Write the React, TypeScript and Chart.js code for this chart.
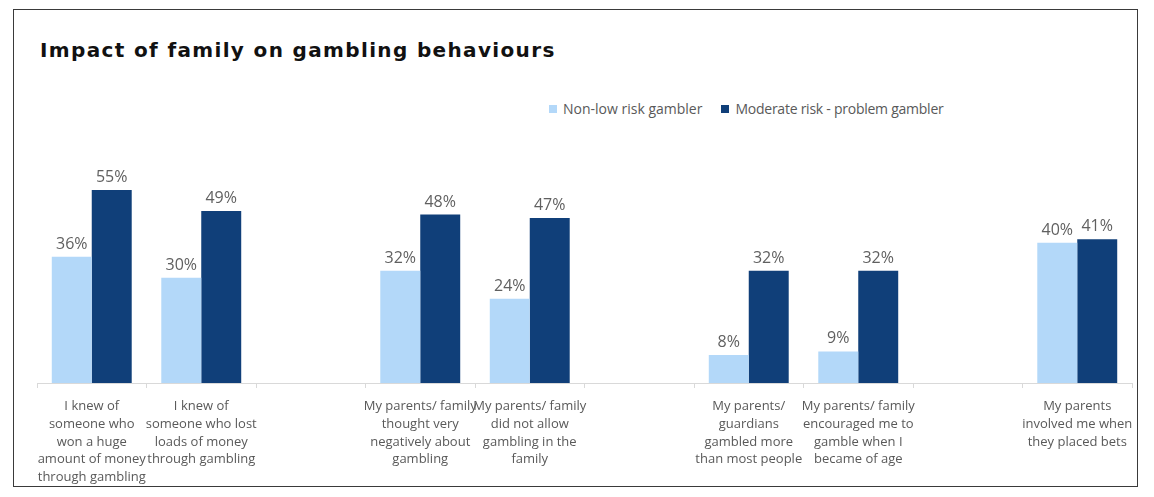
import React, { useEffect, useRef } from "react";
import { Chart, registerables } from "chart.js";

Chart.register(...registerables);

const title = "Impact of family on gambling behaviours";

const categories: (string | string[])[] = [
  ["I knew of", "someone who", "won a huge", "amount of money", "through gambling"],
  ["I knew of", "someone who lost", "loads of money", "through gambling"],
  "",
  ["My parents/ family", "thought very", "negatively about", "gambling"],
  ["My parents/ family", "did not allow", "gambling in the", "family"],
  "",
  ["My parents/", "guardians", "gambled more", "than most people"],
  ["My parents/ family", "encouraged me to", "gamble when I", "became of age"],
  "",
  ["My parents", "involved me when", "they placed bets"],
];

const seriesNames = ["Non-low risk gambler", "Moderate risk - problem gambler"];
const nonLowRisk = [36, 30, null, 32, 24, null, 8, 9, null, 40];
const moderateRisk = [55, 49, null, 48, 47, null, 32, 32, null, 41];
const seriesColors = ["#B3D8F9", "#103F79"];

const TEXT = "#595959";

const valueLabels = {
  id: "valueLabels",
  afterDatasetsDraw(chart: any) {
    const ctx = chart.ctx;
    ctx.save();
    ctx.font = "16px 'Open Sans'";
    ctx.fillStyle = "#606060";
    ctx.textAlign = "center";
    ctx.textBaseline = "alphabetic";
    chart.data.datasets.forEach((ds: any, i: number) => {
      const meta = chart.getDatasetMeta(i);
      meta.data.forEach((bar: any, j: number) => {
        const v = ds.data[j];
        if (v === null || v === undefined) return;
        ctx.fillText(v + "%", bar.x, bar.y - 8);
      });
    });
    ctx.restore();
  },
};

export default function App() {
  const ref = useRef<HTMLCanvasElement>(null);
  useEffect(() => {
    if (!ref.current) return;
    const chart = new Chart(ref.current, {
      type: "bar",
      data: {
        labels: categories,
        datasets: [
          {
            label: seriesNames[0],
            data: nonLowRisk,
            backgroundColor: seriesColors[0],
            categoryPercentage: 0.73,
            barPercentage: 1,
          },
          {
            label: seriesNames[1],
            data: moderateRisk,
            backgroundColor: seriesColors[1],
            categoryPercentage: 0.73,
            barPercentage: 1,
          },
        ],
      },
      options: {
        animation: false,
        responsive: true,
        maintainAspectRatio: false,
        layout: { padding: { left: 23, right: 5, top: 12.5, bottom: 0 } },
        plugins: {
          legend: { display: false },
          tooltip: { enabled: false },
        },
        scales: {
          x: {
            grid: {
              offset: true,
              drawOnChartArea: false,
              drawTicks: true,
              tickLength: 5,
              color: "#D9D9D9",
            },
            border: { color: "#D9D9D9" },
            ticks: {
              color: TEXT,
              font: { family: "'Open Sans'", size: 13, lineHeight: 1.38 },
              maxRotation: 0,
              autoSkip: false,
              padding: 9,
            },
            afterFit(scale: any) {
              scale.height = 103;
              scale.paddingLeft = 0;
              scale.paddingRight = 0;
            },
          },
          y: {
            display: false,
            min: 0,
            max: 60,
          },
        },
      },
      plugins: [valueLabels],
    });
    return () => chart.destroy();
  }, []);

  return (
    <div
      style={{
        position: "absolute",
        left: 13,
        top: 9,
        width: 1125,
        height: 478,
        boxSizing: "border-box",
        border: "1px solid #3A3A3A",
        background: "#fff",
      }}
    >
      <div
        style={{
          position: "absolute",
          left: 26,
          top: 28,
          lineHeight: "24px",
          fontFamily: "'DejaVu Sans', sans-serif",
          fontWeight: 700,
          fontSize: 20,
          letterSpacing: "1.35px",
          color: "#111",
          whiteSpace: "nowrap",
        }}
      >
        {title}
      </div>
      <div
        style={{
          position: "absolute",
          left: 535,
          top: 90,
          lineHeight: "18px",
          fontFamily: "'Open Sans', sans-serif",
          fontSize: 14,
          color: TEXT,
          display: "flex",
          whiteSpace: "nowrap",
        }}
      >
        {seriesNames.map((n, i) => (
          <span key={n} style={{ display: "flex", alignItems: "center", marginRight: 19 }}>
            <span
              style={{
                width: 8,
                height: 8,
                background: seriesColors[i],
                display: "inline-block",
                marginRight: 6,
              }}
            />
            <span style={{ letterSpacing: i === 1 ? "-0.25px" : "0px" }}>{n}</span>
          </span>
        ))}
      </div>
      <div style={{ position: "absolute", left: 0, top: 150, width: 1123, height: 326 }}>
        <canvas ref={ref} />
      </div>
    </div>
  );
}
